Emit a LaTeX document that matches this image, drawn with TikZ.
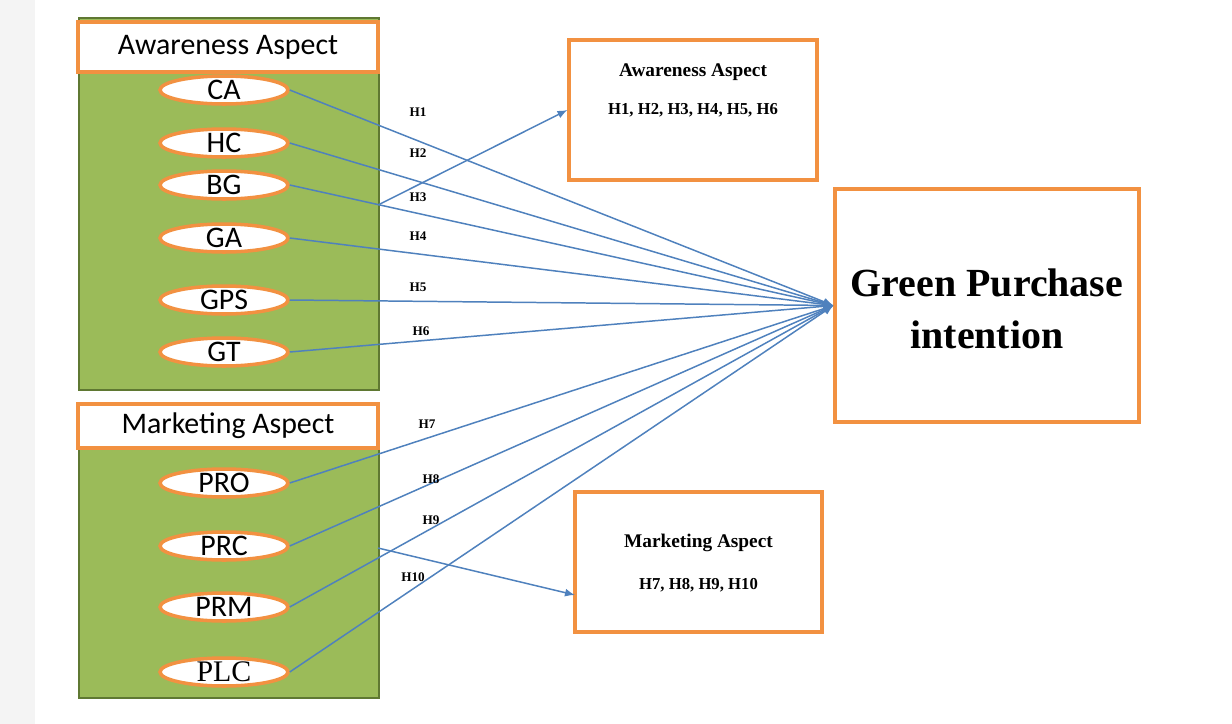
\documentclass[tikz,border=0pt]{standalone}
\usepackage{fontspec}
\setmainfont{Liberation Serif}
\setsansfont{Carlito}
\usetikzlibrary{arrows.meta,positioning,shapes.geometric,calc}
\usepackage{xcolor}
\definecolor{naranja}{RGB}{242,145,65}
\definecolor{verde}{RGB}{155,187,89}
\definecolor{verdeosc}{RGB}{95,120,50}
\definecolor{azul}{RGB}{79,129,189}
\definecolor{gris}{RGB}{244,244,244}

\begin{document}
\begin{tikzpicture}[
  x=0.02cm, y=-0.02cm,
  grupo/.style={rectangle, draw=verdeosc, line width=1.2pt, fill=verde, minimum width=6cm, anchor=north west, inner sep=0pt},
  titulo/.style={rectangle, draw=naranja, line width=1.8pt, fill=white, minimum width=6cm, minimum height=1cm, inner sep=0pt, font=\sffamily\fontsize{17}{20}\selectfont},
  ovalo/.style={ellipse, draw=naranja, line width=2pt, fill=white, minimum width=2.56cm, minimum height=0.56cm, inner sep=0pt, text height=10.5pt, text depth=0pt, font=\sffamily\fontsize{17}{20}\selectfont},
  caja/.style={rectangle, draw=naranja, line width=1.8pt, inner sep=0pt},
  texto/.style={align=center, inner sep=0pt, font=\bfseries},
  flecha/.style={-{Latex[length=2mm, width=1.6mm]}, azul, line width=0.85pt},
  etiqueta/.style={inner sep=0pt, font=\bfseries\fontsize{7.5}{8}\selectfont}
]
\useasboundingbox (0,0) rectangle (1232,724);
\fill[gris] (0,0) rectangle (35,724);

% awareness side
\node[grupo, minimum height=7.44cm] (gaw) at (78,17) {};
\node[titulo] (taw) at (228,47) {Awareness Aspect};
\node[ovalo] (ca) at (224,90) {CA};
\node[ovalo] (hc) at (224,143) {HC};
\node[ovalo] (bg) at (224,185) {BG};
\node[ovalo] (ga) at (224,238) {GA};
\node[ovalo] (gps) at (224,300) {GPS};
\node[ovalo] (gt) at (224,352) {GT};

% marketing side
\node[grupo, minimum height=4.98cm] (gmk) at (78,448) {};
\node[titulo, minimum height=0.88cm] (tmk) at (228,426) {Marketing Aspect};
\node[ovalo] (pro) at (224,483) {PRO};
\node[ovalo] (prc) at (224,546) {PRC};
\node[ovalo] (prm) at (224,607) {PRM};
\node[ovalo, font=\rmfamily\fontsize{17}{20}\selectfont] (plc) at (224,672) {PLC};

% right boxes
\node[caja, minimum width=4.96cm, minimum height=2.8cm] (awbox) at (693,110) {};
\node[texto, font=\bfseries\fontsize{11}{13}\selectfont] (awtit) at (693,72) {Awareness Aspect};
\node[texto, font=\bfseries\fontsize{9.5}{11}\selectfont] (awhip) at (693,110) {H1, H2, H3, H4, H5, H6};

\node[caja, minimum width=6.08cm, minimum height=4.66cm] (gpi) at (987,305.5) {};
\node[texto, font=\bfseries\fontsize{22.7}{29.5}\selectfont] (gpitxt) at (987,309) {Green Purchase\\intention};

\node[caja, minimum width=4.94cm, minimum height=2.8cm] (mkbox) at (698.5,562) {};
\node[texto, font=\bfseries\fontsize{11}{13}\selectfont] (mktit) at (698.5,543) {Marketing Aspect};
\node[texto, font=\bfseries\fontsize{9.5}{11}\selectfont] (mkhip) at (698.5,585) {H7, H8, H9, H10};

% hypotheses
\draw[flecha] (ca.east) -- (gpi.west);
\draw[flecha] (hc.east) -- (gpi.west);
\draw[flecha] (bg.east) -- (gpi.west);
\draw[flecha] (ga.east) -- (gpi.west);
\draw[flecha] (gps.east) -- (gpi.west);
\draw[flecha] (gt.east) -- (gpi.west);
\draw[flecha] (pro.east) -- (gpi.west);
\draw[flecha] (prc.east) -- (gpi.west);
\draw[flecha] (prm.east) -- (gpi.west);
\draw[flecha] (plc.east) -- (gpi.west);

\coordinate (awsal) at (378,205);
\draw[flecha] (awsal) -- (awbox.west);
\coordinate (mksal) at (378,548);
\coordinate (mkfin) at (575,595);
\draw[flecha] (mksal) -- (mkfin);

\node[etiqueta] (h1) at (418,112) {H1};
\node[etiqueta] (h2) at (418,153) {H2};
\node[etiqueta] (h3) at (418,197) {H3};
\node[etiqueta] (h4) at (418,236) {H4};
\node[etiqueta] (h5) at (418,287) {H5};
\node[etiqueta] (h6) at (421,331) {H6};
\node[etiqueta] (h7) at (427,424) {H7};
\node[etiqueta] (h8) at (431,479) {H8};
\node[etiqueta] (h9) at (431,520) {H9};
\node[etiqueta] (h10) at (413,577) {H10};
\end{tikzpicture}
\end{document}
